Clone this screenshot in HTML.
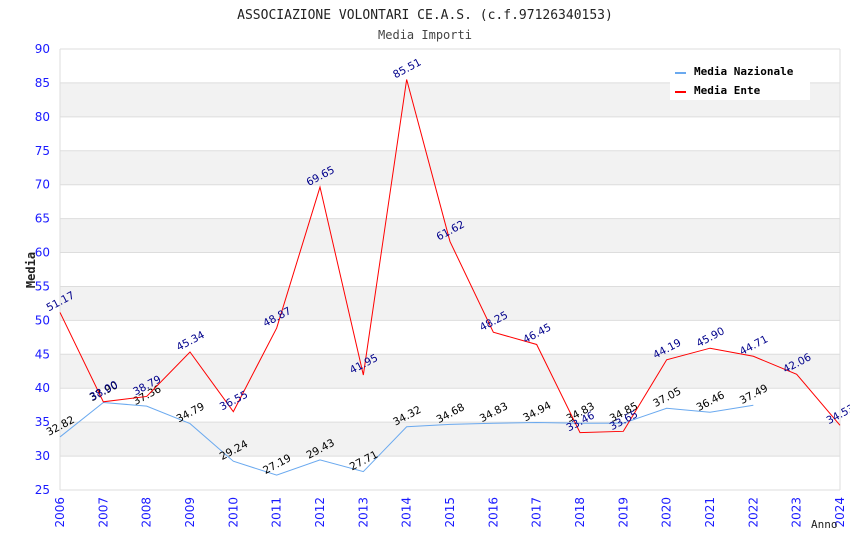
<!DOCTYPE html>
<html><head><meta charset="utf-8"><style>
body{margin:0;background:#fff;}
svg{font-family:"DejaVu Sans Mono","Liberation Mono",monospace;}
.s{font-family:"DejaVu Sans","Liberation Sans",sans-serif;}
</style></head><body>
<svg id="c" width="850" height="550">
<text x="425" y="19" text-anchor="middle" font-size="13" fill="#222">ASSOCIAZIONE VOLONTARI CE.A.S. (c.f.97126340153)</text>
<text x="425" y="39" text-anchor="middle" font-size="12" fill="#444">Media Importi</text>
<g id="grid"></g><g id="axes"></g><g id="series"></g>
<text x="35" y="270" transform="rotate(-90 35 270)" text-anchor="middle" font-size="12" font-weight="bold" fill="#222">Media</text>
<text x="811" y="528" font-size="11" fill="#222">Anno</text>
<g>
<rect x="670" y="60" width="140" height="40" fill="#fff"/>
<line x1="675" y1="73" x2="686" y2="73" stroke="#6aa9ef" stroke-width="2"/>
<text x="694" y="75" font-size="11" font-weight="bold" fill="#000">Media Nazionale</text>
<line x1="675" y1="92" x2="686" y2="92" stroke="red" stroke-width="2"/>
<text x="694" y="94" font-size="11" font-weight="bold" fill="#000">Media Ente</text>
</g>
</svg>
<script>
const years=[2006,2007,2008,2009,2010,2011,2012,2013,2014,2015,2016,2017,2018,2019,2020,2021,2022,2023,2024];
const nazionale=[32.82,37.90,37.36,34.79,29.24,27.19,29.43,27.71,34.32,34.68,34.83,34.94,34.83,34.85,37.05,36.46,37.49];
const ente=[51.17,38.00,38.79,45.34,36.55,48.87,69.65,41.95,85.51,61.62,48.25,46.45,33.46,33.65,44.19,45.90,44.71,42.06,34.53];
const yTicks=[25,30,35,40,45,50,55,60,65,70,75,80,85,90];
const L=60,R=840,T=49,B=490,ymin=25,ymax=90;
const NS="http://www.w3.org/2000/svg";
const xs=i=>L+(R-L)*i/(years.length-1);
const ys=v=>B-(v-ymin)/(ymax-ymin)*(B-T);
function mk(tag,attrs,parent,txt){const e=document.createElementNS(NS,tag);for(const k in attrs)e.setAttribute(k,attrs[k]);if(txt!==undefined)e.textContent=txt;parent.appendChild(e);return e;}
const grid=document.getElementById('grid'),axes=document.getElementById('axes'),ser=document.getElementById('series');
for(let v=30;v<90;v+=10){const r=mk('rect',{x:L,y:ys(v+5),width:R-L,height:ys(v)-ys(v+5),fill:'#f2f2f2'},grid);

}
yTicks.forEach(v=>{const l=mk('line',{x1:L,x2:R,y1:ys(v),y2:ys(v),stroke:'#ddd'},grid);


const t=mk('text',{x:L-10,y:ys(v)+4,'text-anchor':'end','font-size':12,fill:'#1a1aff',class:'s'},axes,String(v));

});
mk('line',{x1:L,x2:L,y1:T,y2:B,stroke:'#ddd'},grid);
mk('line',{x1:R,x2:R,y1:T,y2:B,stroke:'#ddd'},grid);
years.forEach((y,i)=>{const x=xs(i);const t=mk('text',{x:x+4,y:497,transform:`rotate(-90 ${x+4} 497)`,'text-anchor':'end','font-size':12,fill:'#1a1aff',class:'s'},axes,String(y));

});
function series(vals,color,lblColor,name){
const pts=vals.map((v,i)=>xs(i)+','+ys(v)).join(' ');
const p=mk('polyline',{points:pts,fill:'none',stroke:color,'stroke-width':1},ser);


vals.forEach((v,i)=>{const x=xs(i)+2,y=ys(v)-8;
const t=mk('text',{x:x,y:y,transform:`rotate(-28 ${x} ${y})`,'font-size':10.5,fill:lblColor,'text-anchor':'middle',class:'s'},ser,v.toFixed(2));

});}
series(nazionale,'#6aa9ef','#000','nazionale');
series(ente,'red','#00008b','ente');
</script>
</body></html>
